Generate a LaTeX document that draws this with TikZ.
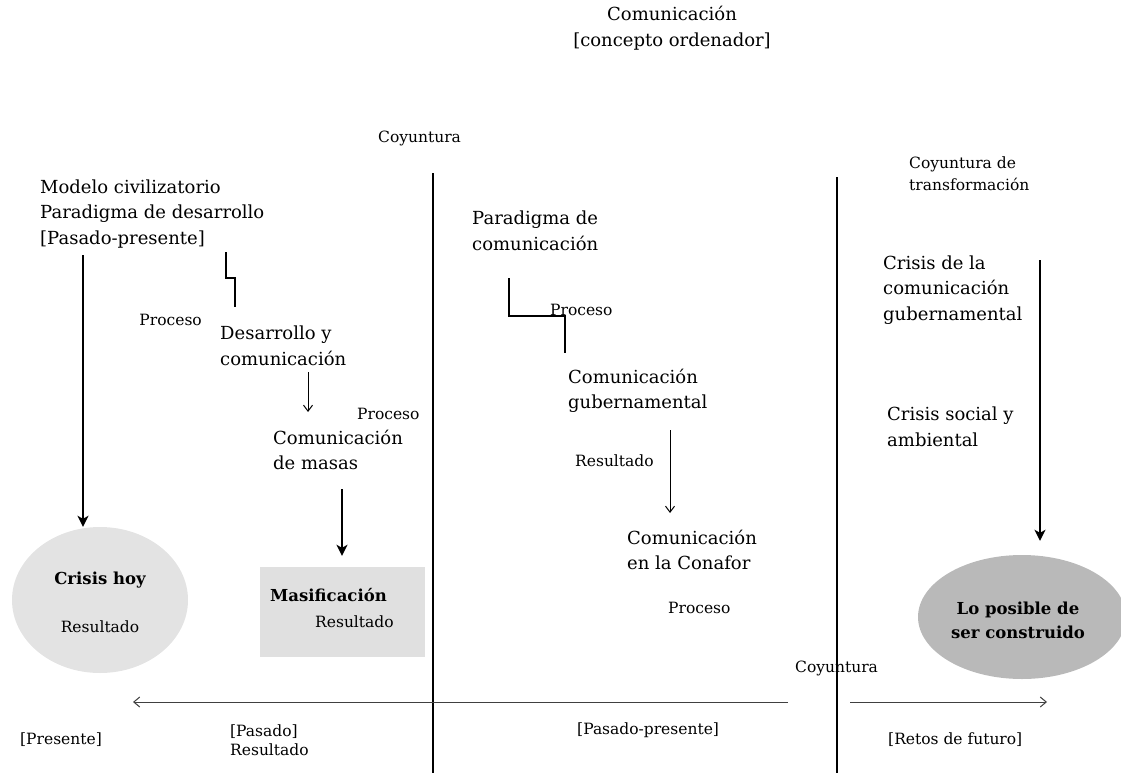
\documentclass[tikz,border=0pt]{standalone}
\usepackage{fontspec}
\setmainfont{DejaVu Serif}
\usetikzlibrary{arrows.meta,shapes.geometric}
\newcommand\mainsz{\fontsize{18}{25.5}\selectfont}
\newcommand\smallsz{\fontsize{15.5}{19}\selectfont}
\newcommand\boldsz{\fontsize{16.5}{24}\selectfont\bfseries}
\tikzset{
  txt/.style={font=\mainsz, align=left, inner sep=0pt, anchor=west},
  lbl/.style={font=\smallsz, align=left, inner sep=0pt, anchor=west},
  bld/.style={font=\boldsz, align=center, inner sep=0pt},
  thickarr/.style={line width=2.4pt, -{Stealth[length=11pt,width=11pt,inset=3pt]}},
  thinarr/.style={line width=1pt, -{Straight Barb[length=6pt,width=9pt]}},
  divider/.style={line width=1.5pt},
  stepline/.style={line width=1.3pt},
  axis/.style={line width=1pt, black!75, -{Straight Barb[length=6pt,width=10pt]}},
  shade/.style={draw=none, inner sep=0pt}
}
\begin{document}
\begin{tikzpicture}[x=1pt,y=-1pt]
\useasboundingbox (0,0) rectangle (1121,773);

% title
\node[font=\mainsz, align=center, inner sep=0pt] (title) at (672,28)
  {Comunicación\\{[}concepto ordenador{]}};

% shaded shapes
\node[shade, ellipse, fill=gray!22, minimum width=176pt, minimum height=146pt] (crisis) at (100,600) {};
\node[shade, rectangle, fill=gray!24, minimum width=165pt, minimum height=90pt] (masif) at (342.5,612) {};
\node[shade, ellipse, fill=gray!55, minimum width=208pt, minimum height=124pt] (posible) at (1022,617) {};

\node[bld] (crisisT) at (100,580) {Crisis hoy};
\node[lbl, anchor=center] (crisisR) at (100,627) {Resultado};
\node[bld, anchor=west] (masifT) at (270,595) {Masificación};
\node[lbl] (masifR) at (315,622) {Resultado};
\node[bld, font=\fontsize{16.5}{24}\selectfont\bfseries] (posibleT) at (1018,620) {Lo posible de\\ser construido};

% labels
\node[lbl] (coy1) at (378,138) {Coyuntura};
\node[lbl, font=\fontsize{15.5}{22}\selectfont] (coyT) at (909,174) {Coyuntura de\\transformación};
\node[txt] (modelo) at (40,214) {Modelo civilizatorio\\Paradigma de desarrollo\\{[}Pasado-presente{]}};
\node[lbl, anchor=east] (proc1) at (202,320) {Proceso};
\node[txt] (desarrollo) at (220,346) {Desarrollo y\\comunicación};
\node[lbl] (proc2) at (357,414) {Proceso};
\node[txt] (masas) at (273,450) {Comunicación\\de masas};
\node[txt] (paradigma) at (472,231) {Paradigma de\\comunicación};
\node[lbl] (proc3) at (550,310) {Proceso};
\node[txt] (gub) at (568,391) {Comunicación\\gubernamental};
\node[lbl] (res1) at (575,461) {Resultado};
\node[txt] (conafor) at (627,550) {Comunicación\\en la Conafor};
\node[lbl] (proc4) at (668,608) {Proceso};
\node[txt] (crisisgub) at (883,290) {Crisis de la\\comunicación\\gubernamental};
\node[txt] (crisissoc) at (887,427) {Crisis social y\\ambiental};
\node[lbl] (coy2) at (795,668) {Coyuntura};

% bottom labels
\node[lbl] (presente) at (20,740) {{[}Presente{]}};
\node[lbl, font=\fontsize{15.5}{18.5}\selectfont] (pasado) at (230,740) {{[}Pasado{]}\\Resultado};
\node[lbl] (pasadopres) at (577,730) {{[}Pasado-presente{]}};
\node[lbl] (retos) at (888,740) {{[}Retos de futuro{]}};

% dividers
\coordinate (d1t) at (433,173);
\coordinate (d1b) at (433,773);
\coordinate (d2t) at (837,177);
\coordinate (d2b) at (837,773);
\draw[divider] (d1t) -- (d1b);
\draw[divider] (d2t) -- (d2b);

% axis
\coordinate (axL0) at (788,702);
\coordinate (axL1) at (133,702);
\coordinate (axR0) at (850,702);
\coordinate (axR1) at (1047,702);
\draw[axis] (axL0) -- (axL1);
\draw[axis] (axR0) -- (axR1);

% thick arrows
\coordinate (a1s) at (83,255);
\draw[thickarr] (a1s) -- (a1s |- crisis.north);
\coordinate (a3s) at (342,489);
\draw[thickarr, shorten >=11pt] (a3s) -- (a3s |- masif.north);
\coordinate (a5s) at (1040,260);
\draw[thickarr, shorten >=14pt] (a5s) -- (a5s |- posible.north);

% thin arrows
\coordinate (a2s) at (308,372);
\coordinate (a2e) at (308,412);
\draw[thinarr] (a2s) -- (a2e);
\coordinate (a4s) at (670,430);
\coordinate (a4e) at (670,513);
\draw[thinarr] (a4s) -- (a4e);

% step connectors
\coordinate (s1a) at (226,252);
\coordinate (s1b) at (235,307);
\draw[stepline] (s1a) -- (226,278) -| (s1b);
\coordinate (s2a) at (509,278);
\coordinate (s2b) at (565,353);
\draw[stepline] (s2a) -- (509,316) -| (s2b);
\end{tikzpicture}
\end{document}
